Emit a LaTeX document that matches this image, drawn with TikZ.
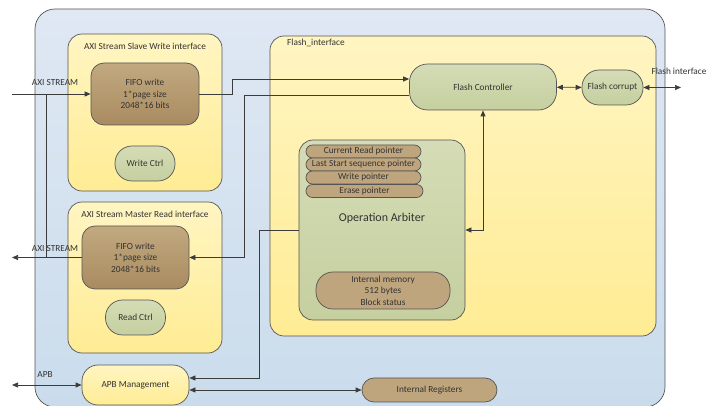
\documentclass[tikz,border=0pt]{standalone}
\usepackage{fontspec}
\setmainfont{Carlito}
\usetikzlibrary{arrows.meta, positioning}
\definecolor{bluetop}{HTML}{DFE8F3}
\definecolor{bluebot}{HTML}{CADCEC}
\definecolor{yeltop}{HTML}{FFF5C2}
\definecolor{yelbot}{HTML}{FFEC94}
\definecolor{browntop}{HTML}{C2A980}
\definecolor{brownbot}{HTML}{A98B60}
\definecolor{pillbrown}{HTML}{BFA57D}
\definecolor{greentop}{HTML}{D5DCB6}
\definecolor{greenbot}{HTML}{C5CF9F}
\definecolor{edgegray}{HTML}{555555}
\definecolor{linegray}{HTML}{3C3C3C}
\definecolor{textgray}{HTML}{333333}

\begin{document}
\begin{tikzpicture}[x=1pt, y=-1pt,
    every node/.style={font=\fontsize{9.3}{11.5}\selectfont, text=textgray, inner sep=0pt},
    box/.style={draw=edgegray, line width=0.7pt, align=center},
    outerbox/.style={box, top color=bluetop, bottom color=bluebot, rounded corners=20pt},
    ifacebox/.style={box, top color=yeltop, bottom color=yelbot, rounded corners=14pt},
    fifobox/.style={box, top color=browntop, bottom color=brownbot, rounded corners=13pt, minimum width=108pt, minimum height=62pt},
    ctrlbox/.style={box, top color=greentop, bottom color=greenbot, rounded corners=17pt},
    pill/.style={box, fill=pillbrown, rounded corners=6.5pt, minimum width=115pt, minimum height=13pt},
    conn/.style={draw=linegray, line width=0.7pt},
    tip/.style={-{Triangle[length=6pt, width=5pt]}},
    tips/.style={{Triangle[length=6pt, width=5pt]}-{Triangle[length=6pt, width=5pt]}}]

    \useasboundingbox (0,0) rectangle (716,406);

    % containers
    \node[outerbox, minimum width=630pt, minimum height=398pt] (top) at (350,208) {};
    \node[ifacebox, minimum width=154pt, minimum height=157pt] (slaveif) at (145,112.5) {};
    \node (slavetitle) at (145,46) {AXI Stream Slave Write interface};
    \node[ifacebox, minimum width=154pt, minimum height=151pt] (masterif) at (145,277.5) {};
    \node (mastertitle) at (145,214) {AXI Stream Master Read interface};
    \node[ifacebox, minimum width=386pt, minimum height=300pt] (flashif) at (463,186) {};
    \node[anchor=west] (flashtitle) at (287,43) {Flash\_interface};

    % stream side
    \node[fifobox] (fifowr) at (145,94) {FIFO write\\1*page size\\2048*16 bits};
    \node[ctrlbox, minimum width=60pt, minimum height=35pt] (wrctrl) at (145,163.5) {Write Ctrl};
    \node[fifobox, minimum width=107pt, minimum height=63pt] (fiford) at (135.5,257.5) {FIFO write\\1*page size\\2048*16 bits};
    \node[ctrlbox, minimum width=60pt, minimum height=35pt] (rdctrl) at (135.5,317.5) {Read Ctrl};
    \node[ifacebox, rounded corners=16pt, minimum width=107pt, minimum height=40pt] (apb) at (135.5,385) {APB Management};

    % flash side
    \node[ctrlbox, rounded corners=18pt, minimum width=147pt, minimum height=46pt] (flashctrl) at (483,87) {Flash Controller};
    \node[ctrlbox, minimum width=61pt, minimum height=35pt] (flashcor) at (612.5,87.5) {Flash corrupt};
    \node[ctrlbox, rounded corners=14pt, minimum width=166pt, minimum height=180pt] (arbiter) at (382,230) {};
    \node[pill] (curptr) at (363.5,151.5) {Current Read pointer};
    \node[pill] (lastptr) at (363.5,164.5) {Last Start sequence pointer};
    \node[pill] (wrptr) at (363.5,177.5) {Write pointer};
    \node[pill, minimum width=117pt] (eraseptr) at (364.5,191) {Erase pointer};
    \node[font=\fontsize{12}{14}\selectfont] (arbtitle) at (382,218) {Operation Arbiter};
    \node[box, fill=pillbrown, rounded corners=17pt, minimum width=134pt, minimum height=37pt] (intmem) at (383,290.5) {Internal memory\\512 bytes\\Block status};
    \node[box, fill=pillbrown, rounded corners=12pt, minimum width=135pt, minimum height=24pt] (intreg) at (429.5,390) {Internal Registers};

    % free ends
    \coordinate (axiin) at (12,94);
    \coordinate (axiout) at (12,257.5);
    \coordinate (tapin) at (46,94);
    \coordinate (tapout) at (46,257.5);
    \coordinate (apbin) at (12,385);
    \coordinate (flashout) at (681,87.5);

    % connectors
    \draw[conn, tip] (axiin) -- (fifowr.west);
    \draw[conn, tip] (fiford.west) -- (axiout);
    \draw[conn] (tapin) -- (tapout);
    \draw[conn, tip] (fifowr.east) -- ++(33,0) |- ([yshift=8pt]flashctrl.west);
    \draw[conn, tip] ([yshift=-8pt]flashctrl.west) -- ++(-165,0) |- (fiford.east);
    \draw[conn, tips] (flashctrl) -- (flashcor);
    \draw[conn, tips] (flashcor) -- (flashout);
    \draw[conn, tips] (flashctrl.south) |- (arbiter.east);
    \draw[conn, tip] (arbiter.west) -- ++(-39,0) |- ([yshift=7pt]apb.east);
    \draw[conn, tips] ([yshift=-5pt]apb.east) -- (intreg.west);
    \draw[conn, tips] (apbin) -- (apb.west);

    % labels
    \node (axiinlbl) at (55,83) {AXI STREAM};
    \node (axioutlbl) at (55,249) {AXI STREAM};
    \node (apblbl) at (45,375) {APB};
    \node (flashlbl) at (679,71) {Flash interface};
\end{tikzpicture}
\end{document}
